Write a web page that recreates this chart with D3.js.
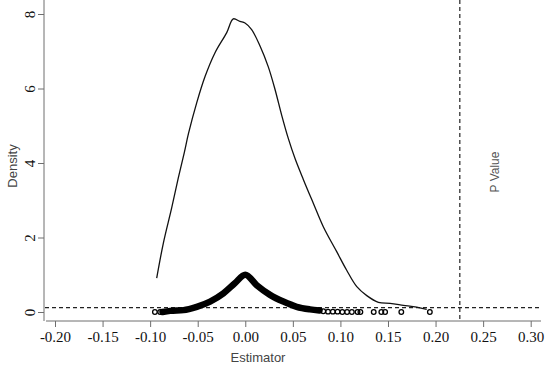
<!DOCTYPE html>
<html>
<head>
<meta charset="utf-8">
<script src="https://cdn.jsdelivr.net/npm/d3@7"></script>
<style>
  body { margin: 0; background: #fff; }
  svg { display: block; }
</style>
</head>
<body>
<div id="chart"></div>
<script>
// Kernel density of the estimator
const densityX = [-0.0931, -0.0861, -0.0773, -0.0704, -0.0641, -0.0598, -0.0510, -0.0423, -0.0318, -0.0195,
                  -0.0126, -0.0056, -0.0003, 0.0067, 0.0155, 0.0242, 0.0312, 0.0383, 0.0452, 0.0523,
                  0.0610, 0.0715, 0.0820, 0.0961, 0.1066, 0.1172, 0.1277, 0.1399, 0.1522, 0.1662,
                  0.1802, 0.1907];
const densityY = [0.91, 1.85, 2.80, 3.60, 4.28, 4.78, 5.62, 6.32, 6.96, 7.50,
                  7.87, 7.80, 7.76, 7.58, 7.14, 6.58, 5.98, 5.28, 4.66, 4.12,
                  3.56, 2.92, 2.29, 1.62, 1.12, 0.68, 0.44, 0.26, 0.23, 0.18,
                  0.13, 0.07];

// Dense band of points (estimator vs p value)
const bandX = [-0.0870, -0.0790, -0.0650, -0.0510, -0.0370, -0.0230, -0.0110, 0.0000,
               0.0120, 0.0260, 0.0400, 0.0540, 0.0680, 0.0780];
const bandY = [0.00, 0.03, 0.05, 0.14, 0.28, 0.50, 0.77, 1.00,
               0.72, 0.46, 0.28, 0.14, 0.07, 0.04];

// Sparse points in the tails
const tailX = [-0.0950, -0.0895, 0.0820, 0.0870, 0.0920, 0.0970, 0.1020, 0.1070, 0.1120,
               0.1180, 0.1210, 0.1350, 0.1430, 0.1470, 0.1640, 0.1940];
const tailY = [0, 0, 0.02, 0.01, 0.01, 0.01, 0, 0, 0, 0, 0, 0, 0, 0, 0, 0];

const xTicks = [-0.20, -0.15, -0.10, -0.05, 0.00, 0.05, 0.10, 0.15, 0.20, 0.25, 0.30];
const yTicks = [0, 2, 4, 6, 8];
const hLine = 0.12;   // horizontal dashed reference
const pValue = 0.2255; // vertical dashed line

let width = 550, height = 373;

let svg = d3.select("#chart")
            .append("svg")
            .attr("width", width)
            .attr("height", height);

let x = d3.scaleLinear()
          .domain([-0.20, 0.30])
          .range([55, 530.7]);

let y = d3.scaleLinear()
          .domain([0, 8])
          .range([312, 14]);

const axisColor = "#6e6e6e";
const serif = "Liberation Serif, Times New Roman, serif";
const sans = "Liberation Sans, Arial, sans-serif";

// x axis (R style, L shaped frame), plain hyphen for minus
let xaxis = svg.append("g")
               .attr("transform", "translate(0,321)")
               .call(d3.axisBottom(x).tickValues(xTicks)
                       .tickFormat(d => d.toFixed(2))
                       .tickSize(6).tickSizeOuter(0));
xaxis.select(".domain").remove();
xaxis.selectAll("line").attr("stroke", axisColor);
xaxis.selectAll("text")
     .attr("font-family", serif)
     .attr("font-size", 15)
     .attr("fill", "#111")
     .attr("dy", null)
     .attr("y", 21);

svg.append("line")
   .attr("x1", 46).attr("x2", 541)
   .attr("y1", 321).attr("y2", 321)
   .attr("stroke", axisColor);

// y axis
let yaxis = svg.append("g")
               .attr("transform", "translate(44,0)")
               .call(d3.axisLeft(y).tickValues(yTicks).tickSize(6).tickSizeOuter(0));
yaxis.select(".domain").remove();
yaxis.selectAll("line").attr("stroke", axisColor);
yaxis.selectAll("text")
     .attr("font-family", serif)
     .attr("font-size", 15)
     .attr("fill", "#111")
     .attr("x", null).attr("dy", null)
     .attr("text-anchor", "middle")
     .attr("transform", "translate(-9,0) rotate(-90)");

svg.append("line")
   .attr("x1", 44).attr("x2", 44)
   .attr("y1", 0).attr("y2", 321)
   .attr("stroke", axisColor);

// axis titles
svg.append("text")
   .attr("x", 258)
   .attr("y", 362)
   .attr("text-anchor", "middle")
   .attr("font-family", sans)
   .attr("font-size", 13)
   .attr("fill", "#444")
   .text("Estimator");

svg.append("text")
   .attr("transform", "translate(17,166) rotate(-90)")
   .attr("text-anchor", "middle")
   .attr("font-family", sans)
   .attr("font-size", 13)
   .attr("fill", "#444")
   .text("Density");

// dashed reference lines
svg.append("line")
   .attr("x1", 45).attr("x2", 541)
   .attr("y1", y(hLine)).attr("y2", y(hLine))
   .attr("stroke", "#222")
   .attr("stroke-width", 1.2)
   .attr("stroke-dasharray", "4,3");

svg.append("line")
   .attr("x1", x(pValue)).attr("x2", x(pValue))
   .attr("y1", 0).attr("y2", 321)
   .attr("stroke", "#222")
   .attr("stroke-width", 1.2)
   .attr("stroke-dasharray", "4,3");

svg.append("text")
   .attr("transform", `translate(${x(pValue) + 39},172) rotate(-90)`)
   .attr("text-anchor", "middle")
   .attr("font-family", sans)
   .attr("font-size", 12)
   .attr("fill", "#555")
   .text("P Value");

// density curve
let density = densityX.map((d, i) => ({x: d, y: densityY[i]}));
let line = d3.line()
             .x(d => x(d.x))
             .y(d => y(d.y))
             .curve(d3.curveCatmullRom.alpha(0.5));

svg.append("path")
   .datum(density)
   .attr("d", line)
   .attr("fill", "none")
   .attr("stroke", "#111")
   .attr("stroke-width", 1.3);

// dense band of overlapping points
let band = bandX.map((d, i) => ({x: d, y: bandY[i]}));
svg.append("path")
   .datum(band)
   .attr("d", d3.line().x(d => x(d.x)).y(d => y(d.y)).curve(d3.curveMonotoneX))
   .attr("fill", "none")
   .attr("stroke", "#000")
   .attr("stroke-width", 6.5)
   .attr("stroke-linecap", "round")
   .attr("stroke-linejoin", "round");

// sparse points
let tails = tailX.map((d, i) => ({x: d, y: tailY[i]}));
svg.selectAll("circle.tail")
   .data(tails)
   .enter()
   .append("circle")
   .attr("class", "tail")
   .attr("cx", d => x(d.x))
   .attr("cy", d => y(d.y))
   .attr("r", 2.3)
   .attr("fill", "none")
   .attr("stroke", "#000")
   .attr("stroke-width", 1.3);
</script>
</body>
</html>
